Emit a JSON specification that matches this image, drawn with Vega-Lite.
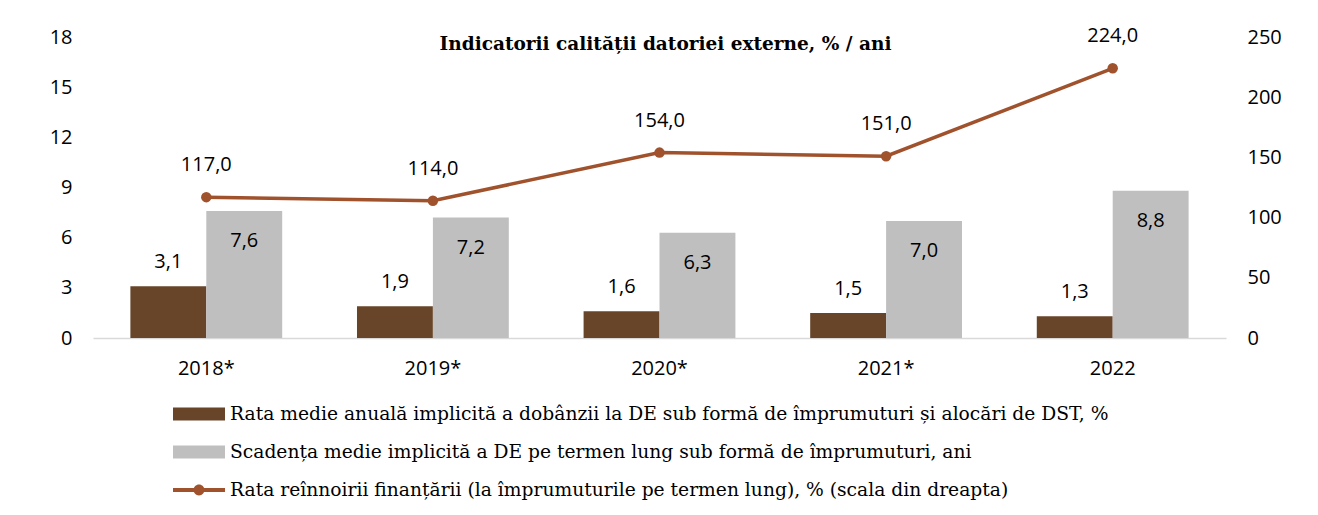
{
  "$schema": "https://vega.github.io/schema/vega-lite/v6.json",
  "width": 1133,
  "height": 301,
  "autosize": {"type": "none"},
  "padding": {"left": 93, "top": 37, "right": 92, "bottom": 177},
  "background": "white",
  "config": {
    "locale": {"number": {"decimal": ",", "thousands": ".", "grouping": [3], "currency": ["", " lei"]}},
    "view": {"stroke": null},
    "font": "DejaVu Serif"
  },
  "title": {
    "text": "Indicatorii  calității datoriei externe, % / ani",
    "font": "DejaVu Serif",
    "fontWeight": "bold",
    "fontSize": 18.5,
    "anchor": "middle",
    "offset": -27,
    "dx": 6,
    "color": "#000000"
  },
  "datasets": {
    "bars": [
      {"year": "2018*", "series": "Rata medie anuală implicită a dobânzii la DE sub formă de împrumuturi și alocări de DST, %", "value": 3.1},
      {"year": "2018*", "series": "Scadența medie implicită a DE pe termen lung sub formă de împrumuturi, ani", "value": 7.6},
      {"year": "2019*", "series": "Rata medie anuală implicită a dobânzii la DE sub formă de împrumuturi și alocări de DST, %", "value": 1.9},
      {"year": "2019*", "series": "Scadența medie implicită a DE pe termen lung sub formă de împrumuturi, ani", "value": 7.2},
      {"year": "2020*", "series": "Rata medie anuală implicită a dobânzii la DE sub formă de împrumuturi și alocări de DST, %", "value": 1.6},
      {"year": "2020*", "series": "Scadența medie implicită a DE pe termen lung sub formă de împrumuturi, ani", "value": 6.3},
      {"year": "2021*", "series": "Rata medie anuală implicită a dobânzii la DE sub formă de împrumuturi și alocări de DST, %", "value": 1.5},
      {"year": "2021*", "series": "Scadența medie implicită a DE pe termen lung sub formă de împrumuturi, ani", "value": 7.0},
      {"year": "2022", "series": "Rata medie anuală implicită a dobânzii la DE sub formă de împrumuturi și alocări de DST, %", "value": 1.3},
      {"year": "2022", "series": "Scadența medie implicită a DE pe termen lung sub formă de împrumuturi, ani", "value": 8.8}
    ],
    "rate": [
      {"year": "2018*", "rate": 117.0},
      {"year": "2019*", "rate": 114.0},
      {"year": "2020*", "rate": 154.0},
      {"year": "2021*", "rate": 151.0},
      {"year": "2022", "rate": 224.0}
    ]
  },
  "encoding": {
    "x": {
      "field": "year",
      "type": "nominal",
      "sort": ["2018*", "2019*", "2020*", "2021*", "2022"],
      "scale": {"paddingInner": 0.33, "paddingOuter": 0.165},
      "axis": {
        "title": null,
        "labelAngle": 0,
        "ticks": false,
        "domainColor": "#D9D9D9",
        "domainWidth": 1.5,
        "labelFont": "Open Sans",
        "labelFontSize": 20,
        "labelPadding": 20,
        "labelColor": "#000000"
      }
    }
  },
  "layer": [
    {
      "data": {"name": "bars"},
      "encoding": {
        "xOffset": {
          "field": "series",
          "type": "nominal",
          "sort": [
            "Rata medie anuală implicită a dobânzii la DE sub formă de împrumuturi și alocări de DST, %",
            "Scadența medie implicită a DE pe termen lung sub formă de împrumuturi, ani"
          ],
          "scale": {"paddingInner": 0, "paddingOuter": 0}
        },
        "y": {
          "field": "value",
          "type": "quantitative",
          "scale": {"domain": [0, 18], "nice": false},
          "axis": {
            "title": null,
            "orient": "left",
            "domain": false,
            "ticks": false,
            "grid": false,
            "values": [0, 3, 6, 9, 12, 15, 18],
            "labelFont": "Open Sans",
            "labelFontSize": 20,
            "labelPadding": 21,
            "labelColor": "#000000"
          }
        }
      },
      "layer": [
        {
          "mark": {"type": "bar"},
          "encoding": {
            "color": {
              "field": "series",
              "type": "nominal",
              "scale": {
                "domain": [
                  "Rata medie anuală implicită a dobânzii la DE sub formă de împrumuturi și alocări de DST, %",
                  "Scadența medie implicită a DE pe termen lung sub formă de împrumuturi, ani",
                  "Rata reînnoirii finanțării (la împrumuturile  pe termen lung), % (scala din dreapta)"
                ],
                "range": ["#684428", "#BFBFBF", "#A0522D"]
              },
              "legend": {
                "orient": "none",
                "legendX": 80,
                "legendY": 351,
                "direction": "vertical",
                "title": null,
                "labelFont": "DejaVu Serif",
                "labelFontSize": 18.7,
                "labelColor": "#000000",
                "labelLimit": 1200,
                "symbolSize": 2704,
                "labelOffset": 5,
                "rowPadding": 2,
                "encode": {
                  "symbols": {
                    "update": {
                      "shape": [
                        {"test": "indexof(datum.label, 'reînnoirii') >= 0", "value": "M-1,-0.077H1V0.077H-1Z M-0.21,0A0.21,0.21 0 1,1 0.21,0A0.21,0.21 0 1,1 -0.21,0Z"},
                        {"value": "M-1,-0.25H1V0.25H-1Z"}
                      ],
                      "fill": {"scale": "color", "field": "value"},
                      "stroke": {"value": "transparent"},
                      "strokeWidth": {"value": 0},
                      "opacity": {"value": 1},
                      "fillOpacity": {"value": 1}
                    }
                  }
                }
              }
            }
          }
        },
        {
          "transform": [{"filter": {"field": "series", "equal": "Rata medie anuală implicită a dobânzii la DE sub formă de împrumuturi și alocări de DST, %"}}],
          "mark": {"type": "text", "dy": -24, "font": "Open Sans", "fontSize": 20, "color": "#000000", "baseline": "middle"},
          "encoding": {"text": {"field": "value", "type": "quantitative", "format": ".1f"}}
        },
        {
          "transform": [{"filter": {"field": "series", "equal": "Scadența medie implicită a DE pe termen lung sub formă de împrumuturi, ani"}}],
          "mark": {"type": "text", "dy": 30, "font": "Open Sans", "fontSize": 20, "color": "#000000", "baseline": "middle"},
          "encoding": {"text": {"field": "value", "type": "quantitative", "format": ".1f"}}
        }
      ]
    },
    {
      "data": {"name": "rate"},
      "encoding": {
        "y": {
          "field": "rate",
          "type": "quantitative",
          "scale": {"domain": [0, 250], "nice": false},
          "axis": {
            "title": null,
            "orient": "right",
            "domain": false,
            "ticks": false,
            "grid": false,
            "values": [0, 50, 100, 150, 200, 250],
            "labelFont": "Open Sans",
            "labelFontSize": 20,
            "labelPadding": 21,
            "labelColor": "#000000"
          }
        }
      },
      "layer": [
        {
          "mark": {"type": "line", "strokeWidth": 3.5},
          "encoding": {"color": {"datum": "Rata reînnoirii finanțării (la împrumuturile  pe termen lung), % (scala din dreapta)"}}
        },
        {
          "mark": {"type": "point", "filled": true, "size": 110, "opacity": 1},
          "encoding": {"color": {"datum": "Rata reînnoirii finanțării (la împrumuturile  pe termen lung), % (scala din dreapta)"}}
        },
        {
          "mark": {"type": "text", "dy": -32, "font": "Open Sans", "fontSize": 20, "color": "#000000", "baseline": "middle"},
          "encoding": {"text": {"field": "rate", "type": "quantitative", "format": ".1f"}}
        }
      ]
    }
  ],
  "resolve": {"scale": {"y": "independent"}}
}
